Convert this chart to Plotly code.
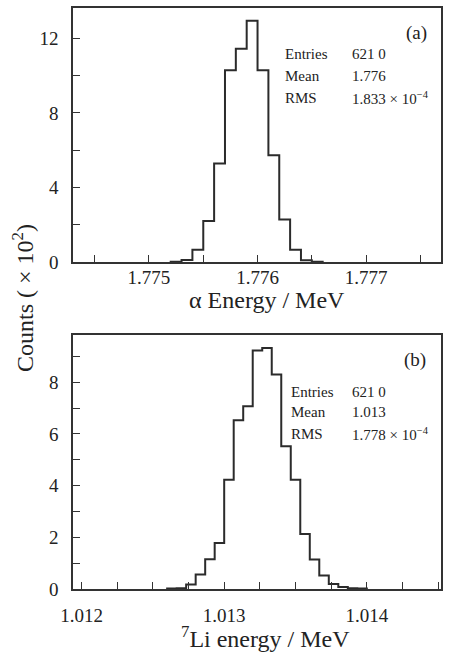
import plotly.graph_objects as go
import numpy as np

# Panel (a): alpha energy histogram, counts in units of 10^2
alpha_edges = [1.7752, 1.7753, 1.7754, 1.7755, 1.7756, 1.7757, 1.7758, 1.7759,
               1.7760, 1.7761, 1.7762, 1.7763, 1.7764, 1.7765, 1.7766]
alpha_counts = [0.02, 0.11, 0.66, 2.20, 5.28, 10.29, 11.45, 12.94,
                10.29, 5.73, 2.28, 0.66, 0.09, 0.02]

# Panel (b): 7Li energy histogram, counts in units of 10^2
li_first_edge = 1.0126
li_bin_width = 0.001 / 15
li_counts = [0.02, 0.03, 0.17, 0.56, 1.15, 1.78, 4.23, 6.53, 7.07, 9.23, 9.33,
             8.30, 5.52, 4.23, 2.13, 1.14, 0.52, 0.19, 0.08, 0.03, 0.02]
li_edges = list(li_first_edge + li_bin_width * np.arange(len(li_counts) + 1))

alpha_stats = [("Entries", "621 0"), ("Mean", "1.776"),
               ("RMS", "1.833 × 10<sup>−4</sup>")]
li_stats = [("Entries", "621 0"), ("Mean", "1.013"),
            ("RMS", "1.778 × 10<sup>−4</sup>")]

W, H = 450, 652
SERIF = "Liberation Serif, Times New Roman, serif"
INK = "#2b2b2b"


def step_xy(edges, counts):
    xs = [edges[0]] + list(edges)
    ys = [0] + list(counts) + [0]
    return xs, ys


def px(x):
    return x / W


def py(y):
    return 1 - y / H


fig = go.Figure()
xa, ya = step_xy(alpha_edges, alpha_counts)
fig.add_trace(go.Scatter(x=xa, y=ya, mode="lines", line_shape="hv",
                         line=dict(color=INK, width=2), xaxis="x", yaxis="y",
                         showlegend=False, hoverinfo="skip"))
xb, yb = step_xy(li_edges, li_counts)
fig.add_trace(go.Scatter(x=xb, y=yb, mode="lines", line_shape="hv",
                         line=dict(color=INK, width=2), xaxis="x2", yaxis="y2",
                         showlegend=False, hoverinfo="skip"))

axis_common = dict(showline=True, mirror=True, linecolor="#333", linewidth=1.5,
                   showgrid=False, zeroline=False, ticks="inside", ticklen=7,
                   tickwidth=1.3, tickcolor="#333", automargin=False,
                   tickfont=dict(family=SERIF, size=19, color="#222"))


def minor(tick0, dtick):
    return dict(tick0=tick0, dtick=dtick, ticks="inside", ticklen=7,
                tickwidth=1.3, tickcolor="#333")


plot_x = [px(73), px(441)]

fig.update_layout(
    width=W, height=H,
    margin=dict(l=0, r=0, t=0, b=0),
    paper_bgcolor="white", plot_bgcolor="white",
    xaxis=dict(domain=plot_x, range=[1.7743, 1.77769], tick0=1.775, dtick=0.001,
               tickformat=".3f", anchor="y", ticklabelstandoff=-3,
               minor=minor(1.775, 0.0005), **axis_common),
    yaxis=dict(domain=[py(262), py(8)], range=[0, 13.63], tick0=0, dtick=4,
               anchor="x", ticklabelstandoff=9,
               minor=minor(0, 2), **axis_common),
    xaxis2=dict(domain=plot_x, range=[1.01194, 1.01452], tick0=1.012, dtick=0.001,
                tickformat=".3f", anchor="y2", ticklabelstandoff=8,
                minor=minor(1.012, 0.00025), **axis_common),
    yaxis2=dict(domain=[py(589), py(335)], range=[0, 9.83], tick0=0, dtick=2,
                anchor="x2", ticklabelstandoff=9,
                minor=minor(0, 1), **axis_common),
)

annotations = []


def text(x, y, s, size, xanchor="left", angle=0):
    annotations.append(dict(x=px(x), y=py(y), xref="paper", yref="paper",
                            text=s, showarrow=False, xanchor=xanchor,
                            yanchor="middle", textangle=angle,
                            font=dict(family=SERIF, size=size, color="#222")))


# axis titles
text(267, 300, "α Energy / MeV", 24, xanchor="center")
text(265, 637, "<sup>7</sup>Li energy / MeV", 24, xanchor="center")
text(23, 298, "Counts ( × 10<sup>2</sup>)", 24, xanchor="center", angle=-90)

# panel labels
text(416, 33, "(a)", 19, xanchor="center")
text(415, 360, "(b)", 19, xanchor="center")

# statistics boxes
for i, (k, v) in enumerate(alpha_stats):
    y = 54 + i * 21.8
    text(283, y, k, 15)
    text(350, y, v, 15)
for i, (k, v) in enumerate(li_stats):
    y = 391.5 + i * 21
    text(289, y, k, 15)
    text(350, y, v, 15)

fig.update_layout(annotations=annotations)
fig.write_html("out.html")
